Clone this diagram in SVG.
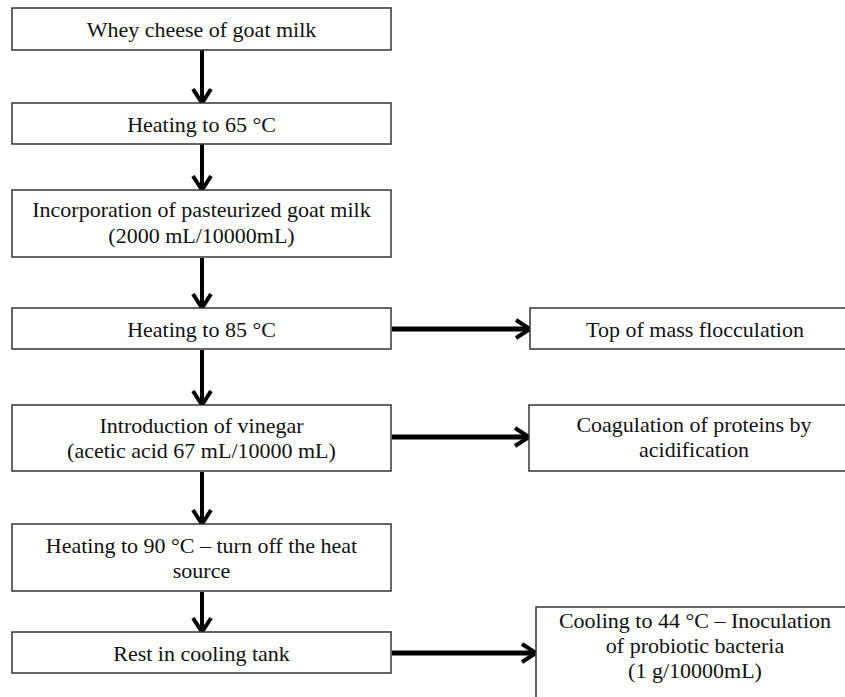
<svg xmlns="http://www.w3.org/2000/svg" width="845" height="697" viewBox="0 0 845 697">
<style>
.box{fill:#fff;stroke:#333;stroke-width:1.5}
text{font-family:'Liberation Serif','Times New Roman','DejaVu Serif',serif;font-size:22px;fill:#111;text-anchor:middle}
.v{stroke:#000;stroke-width:4;fill:none}
.h{stroke:#000;stroke-width:5;fill:none}
</style>
<defs>
<marker id="ah" markerUnits="userSpaceOnUse" viewBox="0 0 24 24" markerWidth="24" markerHeight="24" refX="17" refY="12" orient="auto">
<path d="M5,3 L19,12 L5,21" fill="none" stroke="#000" stroke-width="4" stroke-linejoin="miter"/>
</marker>
</defs>
<rect width="845" height="697" fill="#fff"/>
<g id="connectors">
<line class="v" x1="202" y1="50" x2="202" y2="101" marker-end="url(#ah)"/>
<line class="v" x1="202" y1="144" x2="202" y2="188" marker-end="url(#ah)"/>
<line class="v" x1="202" y1="258" x2="202" y2="306" marker-end="url(#ah)"/>
<line class="v" x1="202" y1="350" x2="202" y2="403" marker-end="url(#ah)"/>
<line class="v" x1="202" y1="472" x2="202" y2="522" marker-end="url(#ah)"/>
<line class="v" x1="202" y1="592" x2="202" y2="630" marker-end="url(#ah)"/>
<line class="h" x1="392" y1="329" x2="528" y2="329" marker-end="url(#ah)"/>
<line class="h" x1="392" y1="437" x2="527" y2="437" marker-end="url(#ah)"/>
<line class="h" x1="392" y1="653" x2="534" y2="653" marker-end="url(#ah)"/>
</g>
<g font-family="Liberation Serif, Times New Roman, DejaVu Serif, serif">
<g id="n1"><rect class="box" x="12" y="8" width="379" height="42"/><text x="201.5" y="37">Whey cheese of goat milk</text></g>
<g id="n2"><rect class="box" x="12" y="103" width="379" height="41"/><text x="201.5" y="132">Heating to 65 °C</text></g>
<g id="n3"><rect class="box" x="12" y="190" width="379" height="67"/><text x="201.5" y="217">Incorporation of pasteurized goat milk</text><text x="201.5" y="243">(2000 mL/10000mL)</text></g>
<g id="n4"><rect class="box" x="12" y="308" width="379" height="41"/><text x="201.5" y="337">Heating to 85 °C</text></g>
<g id="n5"><rect class="box" x="12" y="405" width="379" height="66"/><text x="201.5" y="433">Introduction of vinegar</text><text x="201.5" y="458">(acetic acid 67 mL/10000 mL)</text></g>
<g id="n6"><rect class="box" x="12" y="524" width="379" height="67"/><text x="201.5" y="553">Heating to 90 °C – turn off the heat</text><text x="201.5" y="578">source</text></g>
<g id="n7"><rect class="box" x="12" y="632" width="379" height="41"/><text x="201.5" y="661">Rest in cooling tank</text></g>
<g id="n8"><rect class="box" x="530" y="308" width="340" height="41"/><text x="695" y="337">Top of mass flocculation</text></g>
<g id="n9"><rect class="box" x="529" y="405" width="341" height="66"/><text x="694" y="432">Coagulation of proteins by</text><text x="694" y="457">acidification</text></g>
<g id="n10"><rect class="box" x="536" y="607" width="334" height="100"/><text x="695" y="628">Cooling to 44 °C – Inoculation</text><text x="695" y="653">of probiotic bacteria</text><text x="695" y="678">(1 g/10000mL)</text></g>
</g>
</svg>
